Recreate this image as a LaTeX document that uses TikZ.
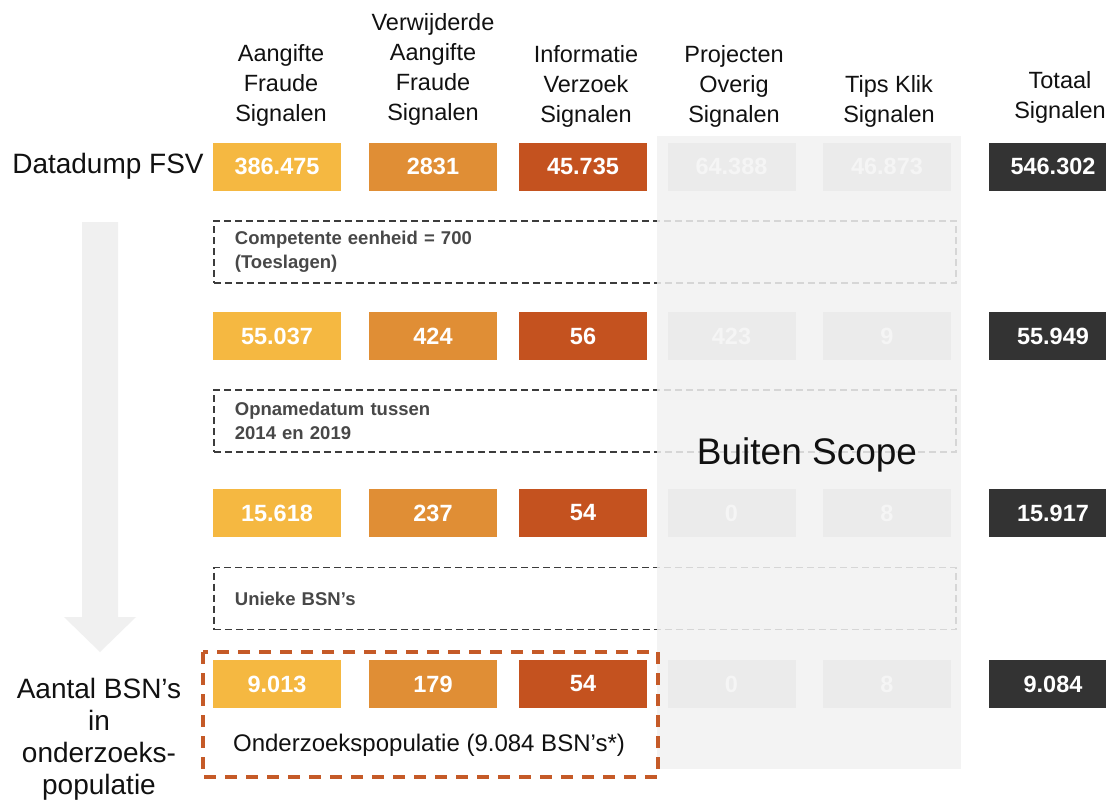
\documentclass[tikz,border=0pt]{standalone}
\usepackage{fontspec}
\setmainfont{Liberation Sans}
\definecolor{cyel}{HTML}{F5B841}
\definecolor{corg}{HTML}{E08E35}
\definecolor{cdor}{HTML}{C4521F}
\definecolor{cdark}{HTML}{333333}
\definecolor{cgbox}{HTML}{EBEBEB}
\definecolor{cgbg}{HTML}{F2F2F2}
\definecolor{cgtxt}{HTML}{F5F5F5}
\definecolor{carrow}{HTML}{F0F0F0}
\definecolor{cdash}{HTML}{3C3C3C}
\definecolor{cftxt}{HTML}{484848}
\definecolor{codash}{HTML}{C55A28}
\definecolor{ctext}{HTML}{111111}
\begin{document}
\begin{tikzpicture}[x=1pt,y=-1pt,
  numbox/.style={rectangle, minimum width=128pt, minimum height=48pt, inner sep=0pt,
    font=\fontsize{23.5}{27}\selectfont\bfseries, text=white},
  yel/.style={numbox, fill=cyel},
  org/.style={numbox, fill=corg},
  dor/.style={numbox, fill=cdor},
  gbx/.style={numbox, fill=cgbox, text=cgtxt},
  tot/.style={numbox, fill=cdark, minimum width=128pt},
  head/.style={align=center, font=\fontsize{23.5}{30}\selectfont, text=ctext},
  side/.style={align=center, font=\fontsize{28}{32}\selectfont, text=ctext},
  filterbox/.style={rectangle, draw=cdash, line width=1.8pt, dash pattern=on 7pt off 4pt,
    minimum width=742pt, minimum height=62pt, text width=700pt, align=left,
    inner xsep=21pt, anchor=west, font=\fontsize{18.5}{24}\selectfont\bfseries, text=cftxt}
]
\useasboundingbox (0,0) rectangle (1106,801);
\fill[white] (0,0) rectangle (1106,801);

% big arrow
\fill[carrow] (82,222) -- (118,222) -- (118,617) -- (136,617) -- (100,652) -- (64,617) -- (82,617) -- cycle;

% filter boxes
\node[filterbox] (f1) at (213,252) {Competente eenheid = 700\\(Toeslagen)};
\node[filterbox] (f2) at (213,421) {Opnamedatum tussen\\2014 en 2019};
\node[filterbox] (f3) at (213,598.5) {Unieke BSN’s};

% out of scope background
\fill[cgbg, fill opacity=0.85] (657,136) rectangle (961,769);
\node[font=\fontsize{37}{40}\selectfont, text=ctext] (scope) at (807,455) {Buiten Scope};

% population box
\draw[codash, line width=3.5pt, dash pattern=on 12pt off 9pt] (203,652) rectangle (658,777);
\node[font=\fontsize{24}{28}\selectfont, text=ctext] (pop) at (429,745) {Onderzoekspopulatie (9.084 BSN’s*)};

% headers
\node[head] (h1) at (281,85) {Aangifte\\Fraude\\Signalen};
\node[head] (h2) at (433,69.5) {Verwijderde\\Aangifte\\Fraude\\Signalen};
\node[head] (h3) at (586,86) {Informatie\\Verzoek\\Signalen};
\node[head] (h4) at (734,86) {Projecten\\Overig\\Signalen};
\node[head] (h5) at (889,101) {Tips Klik\\Signalen};
\node[head] (h6) at (1060,97.5) {Totaal\\Signalen};

% side labels
\node[side] (l1) at (108,166) {Datadump FSV};
\node[side] (l2) at (99,739) {Aantal BSN’s\\in\\onderzoeks-\\populatie};

% row 1
\node[yel] (a1) at (277,166.5) {386.475};
\node[org] (b1) at (433,166.5) {2831};
\node[dor] (c1) at (583,166.5) {45.735};
\node[gbx] (d1) at (731.5,166.5) {64.388};
\node[gbx] (e1) at (887,166.5) {46.873};
\node[tot] (t1) at (1053,166.5) {546.302};
% row 2
\node[yel] (a2) at (277,336) {55.037};
\node[org] (b2) at (433,336) {424};
\node[dor] (c2) at (583,336) {56};
\node[gbx] (d2) at (731.5,336) {423};
\node[gbx] (e2) at (887,336) {9};
\node[tot] (t2) at (1053,336) {55.949};
% row 3
\node[yel] (a3) at (277,513) {15.618};
\node[org] (b3) at (433,513) {237};
\node[dor] (c3) at (583,513) {54};
\node[gbx] (d3) at (731.5,513) {0};
\node[gbx] (e3) at (887,513) {8};
\node[tot] (t3) at (1053,513) {15.917};
% row 4
\node[yel] (a4) at (277,684) {9.013};
\node[org] (b4) at (433,684) {179};
\node[dor] (c4) at (583,684) {54};
\node[gbx] (d4) at (731.5,684) {0};
\node[gbx] (e4) at (887,684) {8};
\node[tot] (t4) at (1053,684) {9.084};
\end{tikzpicture}
\end{document}
